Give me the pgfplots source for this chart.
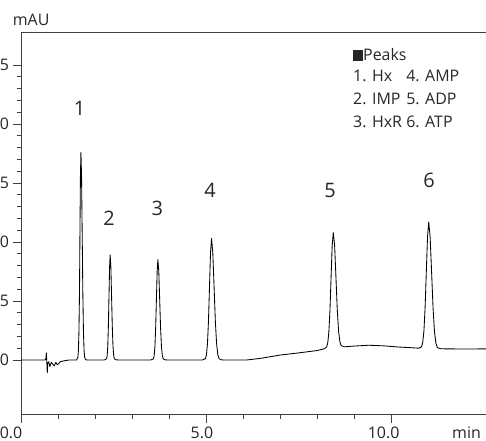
\documentclass[border=0pt]{standalone}
\usepackage{pgfplots}
\pgfplotsset{compat=1.18}
\usepackage{fontspec}
\setmainfont{Open Sans}
\begin{document}
\begin{tikzpicture}
\begin{axis}[
  x=37bp, y=11.8bp,
  xmin=0, xmax=12.8, ymin=-4.58, ymax=27.8,
  axis line style={black!75, line width=0.8bp},
  xtick={0,5,10}, xticklabels={},
  ytick={0,5,10,15,20,25},
  minor x tick num=4, minor y tick num=4,
  tick align=outside, xtick pos=bottom, ytick pos=left,
  major tick length=8.5bp, minor tick length=4.5bp,
  every tick/.style={black!75, line width=0.8bp},
  every minor tick/.style={black!75, line width=0.8bp},
  yticklabel style={font=\fontsize{16}{19}\selectfont, text=black!85, /pgf/number format/assume math mode=true},
  clip=false,
]
\addplot[black, line width=0.85bp, line join=round] coordinates {
(0,0) (0.64,0) (0.67,0.05) (0.685,0.6) (0.70,-0.3) (0.71,-1.1) (0.725,-0.25) (0.75,-0.15) (0.78,-0.55) (0.82,-0.2) (0.86,-0.35) (0.90,-0.5) (0.94,-0.2) (0.98,-0.4) (1.02,-0.3) (1.06,-0.15) (1.12,-0.1) (1.2,-0.05) (1.3,0) (1.50,0)
(1.536,0.2) (1.551,0.77) (1.566,2.38) (1.581,5.71) (1.593,10.67) (1.606,15.53) (1.62,17.6) (1.637,15.53) (1.654,10.67) (1.671,5.71) (1.688,2.38) (1.705,0.77) (1.722,0.2) (1.75,0.02) (1.8,0)
(2.25,0)
(2.314,0.10) (2.33,0.39) (2.346,1.20) (2.362,2.89) (2.378,5.40) (2.394,7.85) (2.41,8.9) (2.429,7.85) (2.448,5.40) (2.467,2.89) (2.486,1.20) (2.505,0.39) (2.524,0.10) (2.56,0.02) (2.65,0)
(3.5,0)
(3.58,0.09) (3.60,0.37) (3.62,1.15) (3.64,2.76) (3.66,5.16) (3.68,7.50) (3.70,8.5) (3.724,7.50) (3.748,5.16) (3.772,2.76) (3.796,1.15) (3.82,0.37) (3.844,0.09) (3.9,0.01) (4.0,0)
(4.9,0)
(4.985,0.11) (5.0125,0.45) (5.04,1.39) (5.0675,3.34) (5.095,6.25) (5.1225,9.09) (5.15,10.3) (5.184,9.09) (5.218,6.25) (5.252,3.34) (5.286,1.39) (5.32,0.45) (5.354,0.11) (5.42,0.01) (5.5,0)
(6.1,0) (6.5,0.15) (7.0,0.42) (7.5,0.6) (8.0,0.8) (8.2,0.95)
(8.26,1.11) (8.29,1.43) (8.32,2.33) (8.35,4.18) (8.38,6.94) (8.41,9.65) (8.44,10.8) (8.476,9.75) (8.512,7.04) (8.548,4.28) (8.584,2.43) (8.62,1.53) (8.656,1.21) (8.75,1.12)
(9.0,1.18) (9.4,1.25) (9.8,1.2) (10.2,1.1) (10.5,1.05) (10.75,1.0)
(10.825,1.12) (10.8575,1.47) (10.89,2.45) (10.9225,4.47) (10.955,7.49) (10.9875,10.44) (11.02,11.7) (11.059,10.37) (11.098,7.42) (11.137,4.40) (11.176,2.38) (11.215,1.40) (11.254,1.05) (11.35,0.95) (12.0,0.93) (12.8,0.95)
};
% peak numbers
\begin{scope}[every node/.style={font=\fontsize{20}{24}\selectfont, text=black!85, anchor=base, inner sep=0pt}]
\node at (axis cs:1.586,20.76) {1};
\node at (axis cs:2.378,11.44) {2};
\node at (axis cs:3.684,12.25) {3};
\node at (axis cs:5.108,13.73) {4};
\node at (axis cs:8.351,13.81) {5};
\node at (axis cs:11.03,14.58) {6};
\end{scope}
% x tick labels and axis units
\begin{scope}[every node/.style={font=\fontsize{16}{19}\selectfont, text=black!85, inner sep=0pt}]
\node[anchor=base] at (axis cs:-0.27,-6.65) {0.0};
\node[anchor=base] at (axis cs:4.89,-6.65) {5.0};
\node[anchor=base] at (axis cs:9.80,-6.65) {10.0};
\node[anchor=base west] at (axis cs:11.65,-6.65) {min};
\node[anchor=base west] at (axis cs:-0.224,28.39) {mAU};
% legend
\node[anchor=base west] at (axis cs:8.973,25.34) {\rule{10bp}{11bp}Peaks};
\node[anchor=base west] at (axis cs:8.973,23.64) {1. Hx};
\node[anchor=base west] at (axis cs:8.973,21.65) {2. IMP};
\node[anchor=base west] at (axis cs:8.973,19.70) {3. HxR};
\node[anchor=base west] at (axis cs:10.41,23.64) {4. AMP};
\node[anchor=base west] at (axis cs:10.41,21.65) {5. ADP};
\node[anchor=base west] at (axis cs:10.41,19.70) {6. ATP};
\end{scope}
\coordinate (bbl) at (axis cs:-0.5676,-6.864);
\coordinate (btr) at (axis cs:12.568,30.51);
\end{axis}
\pgfresetboundingbox
\useasboundingbox (bbl) rectangle (btr);
\end{tikzpicture}
\end{document}
